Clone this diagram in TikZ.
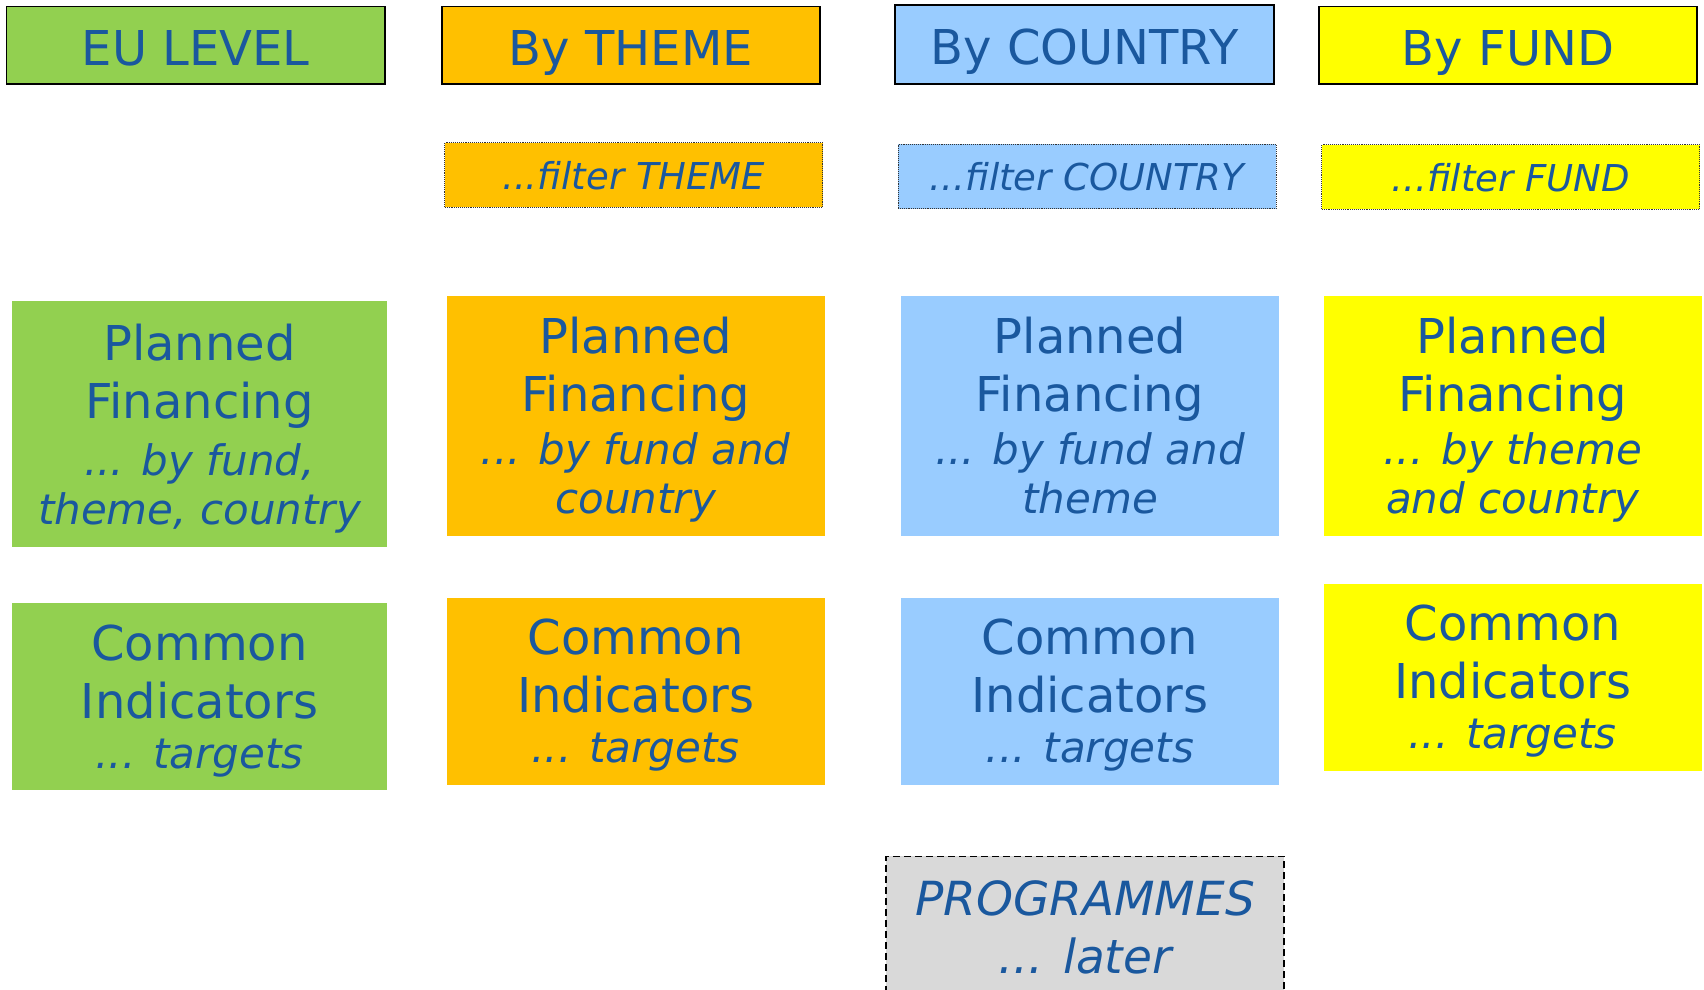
\documentclass[tikz,border=0pt]{standalone}
\usepackage{fontspec}
\setmainfont{DejaVu Sans}
\definecolor{cgreen}{RGB}{146,208,80}
\definecolor{corange}{RGB}{255,192,0}
\definecolor{cblue}{RGB}{153,204,255}
\definecolor{cyellow}{RGB}{255,255,0}
\definecolor{cgrey}{RGB}{217,217,217}
\definecolor{ctext}{RGB}{26,88,158}
\tikzset{
  hdr/.style={draw=black, line width=1.5pt, inner sep=0pt, text=ctext,
    font=\fontsize{48}{58}\selectfont, text height=40pt, text depth=0pt},
  filt/.style={draw=black!80, densely dotted, line width=0.9pt, inner sep=0pt, text=ctext,
    font=\fontsize{37}{42}\selectfont\itshape, minimum width=378pt, minimum height=64.5pt,
    text height=28pt, text depth=0pt},
  bigbox/.style={inner sep=0pt, text=ctext, align=center,
    font=\fontsize{48}{58}\selectfont, minimum width=378pt, text depth=0pt},
  prog/.style={draw=black, dash pattern=on 7pt off 4pt, line width=1.4pt, inner sep=0pt, text=ctext, align=center,
    font=\fontsize{47}{58}\selectfont\itshape, minimum width=398pt, minimum height=141.6pt, anchor=north},
}
\newcommand{\itl}[1]{{\itshape\fontsize{42}{52}\selectfont #1}}
\begin{document}
\begin{tikzpicture}[x=1pt,y=-1pt]
\useasboundingbox (0,0) rectangle (1704,989);
% headers
\node[hdr, fill=cgreen, minimum width=378.5pt, minimum height=77.5pt] (h1) at (195.75,45.25) {EU LEVEL};
\node[hdr, fill=corange, minimum width=378pt, minimum height=77.5pt] (h2) at (631,45.25) {By THEME};
\node[hdr, fill=cblue, minimum width=379pt, minimum height=79pt] (h3) at (1084.5,44.5) {By COUNTRY};
\node[hdr, fill=cyellow, minimum width=378pt, minimum height=77.5pt] (h4) at (1508,45.25) {By FUND};
% filters
\node[filt, fill=corange] (f2) at (633.85,175) {...filter THEME};
\node[filt, fill=cblue] (f3) at (1087,176.5) {...filter COUNTRY};
\node[filt, fill=cyellow] (f4) at (1510.85,177) {...filter FUND};
% planned financing
\node[bigbox, fill=cgreen, minimum width=375pt, minimum height=245.6pt] (p1) at (199.5,423.8)
  {Planned\\Financing\\[-1pt]\itl{... by fund,}\\[-9pt]\itl{theme, country}};
\node[bigbox, fill=corange, minimum height=240pt] (p2) at (635.7,415.65)
  {Planned\\Financing\\[-5pt]\itl{... by fund and}\\[-9pt]\itl{country}};
\node[bigbox, fill=cblue, minimum height=240pt] (p3) at (1090,415.65)
  {Planned\\Financing\\[-5pt]\itl{... by fund and}\\[-9pt]\itl{theme}};
\node[bigbox, fill=cyellow, minimum height=240pt] (p4) at (1512.7,415.65)
  {Planned\\Financing\\[-5pt]\itl{... by theme}\\[-9pt]\itl{and country}};
% common indicators
\node[bigbox, fill=cgreen, minimum width=375pt, minimum height=187pt] (c1) at (199.5,696.5)
  {Common\\Indicators\\[-8pt]\itl{... targets}};
\node[bigbox, fill=corange, minimum height=187pt] (c2) at (635.7,691.15)
  {Common\\Indicators\\[-8pt]\itl{... targets}};
\node[bigbox, fill=cblue, minimum height=187pt] (c3) at (1090,691.15)
  {Common\\Indicators\\[-8pt]\itl{... targets}};
\node[bigbox, fill=cyellow, minimum height=187pt] (c4) at (1512.7,677)
  {Common\\Indicators\\[-8pt]\itl{... targets}};
% programmes
\node[prog, fill=cgrey] (pr) at (1085,855.7) {PROGRAMMES\\... later};
\end{tikzpicture}
\end{document}
